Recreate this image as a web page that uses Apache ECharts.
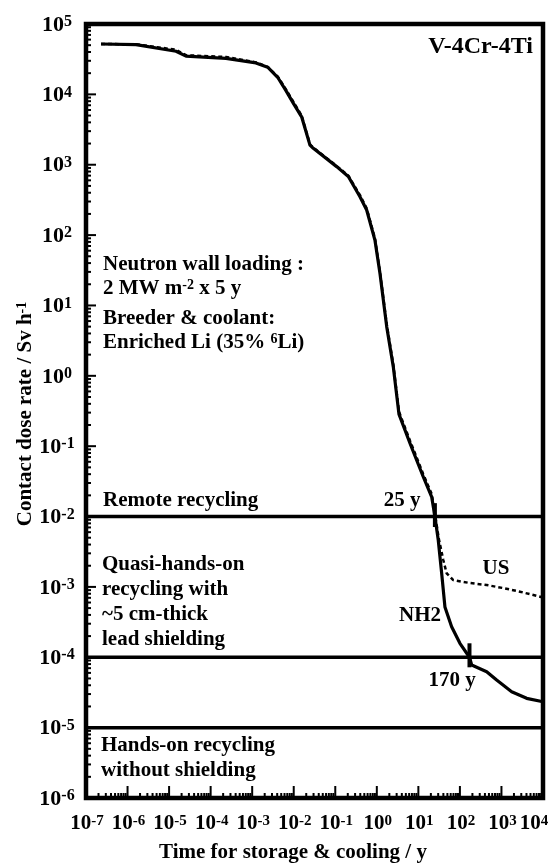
<!DOCTYPE html>
<html>
<head>
<meta charset="utf-8">
<script src="https://cdn.jsdelivr.net/npm/echarts@6/dist/echarts.min.js"></script>
<style>
  html, body { margin: 0; padding: 0; background: #fff; }
  #chart { width: 555px; height: 863px; }
</style>
</head>
<body>
<div id="chart"></div>
<script>
// Contact dose rate of V-4Cr-4Ti after 2 MW/m2 x 5 y, as a function of cooling time.
// NH2 nuclear data library (solid)
const nh2Time = [2.3e-7, 1.6e-6, 1.47e-5, 2.55e-5, 2.34e-4, 1.23e-3, 2.36e-3, 4.1e-3, 6.5e-3, 9.75e-3,
  1.55e-2, 2.46e-2, 2.96e-2, 0.108, 0.206, 0.393, 0.57, 0.90, 1.19, 1.73,
  2.49, 3.41, 6.28, 13.1, 20.9, 25, 30.1, 36.4, 43.6, 63.2,
  100, 170, 192, 441, 766, 1760, 4040, 1e4];
const nh2Dose = [5.2e4, 5.1e4, 4.1e4, 3.5e4, 3.25e4, 2.8e4, 2.43e4, 1.75e4, 1.13e4, 7.5e3,
  4.8e3, 1.9e3, 1.71e3, 940, 680, 350, 227, 85, 28.6, 5.0,
  1.35, 0.286, 0.11, 0.0368, 0.0191, 0.01, 4.63e-3, 1.56e-3, 5.2e-4, 2.72e-4,
  1.58e-4, 1.0e-4, 7.76e-5, 6.24e-5, 4.74e-5, 3.24e-5, 2.61e-5, 2.33e-5];

// US composition (dotted)
const usTime = [2.3e-7, 1.6e-6, 1.47e-5, 2.55e-5, 2.34e-4, 1.23e-3, 2.36e-3, 4.1e-3, 6.5e-3, 9.75e-3,
  1.55e-2, 2.46e-2, 2.96e-2, 0.108, 0.206, 0.393, 0.57, 0.90, 1.19, 1.73,
  2.49, 3.41, 6.28, 13.1, 20.9, 25, 30.9, 39.8, 48.0, 69.2,
  175, 441, 1090, 2790, 1e4];
const usDose = [5.2e4, 5.15e4, 4.3e4, 3.6e4, 3.4e4, 2.85e4, 2.45e4, 1.8e4, 1.18e4, 7.9e3,
  5.0e3, 1.95e3, 1.75e3, 960, 700, 370, 240, 90, 30, 5.4,
  1.45, 0.31, 0.12, 0.040, 0.021, 0.0112, 4.9e-3, 2.41e-3, 1.56e-3, 1.25e-3,
  1.135e-3, 1.064e-3, 9.64e-4, 8.55e-4, 7.08e-4];

// Recycling limits (Sv/h)
const limitDose = [1e-2, 1e-4, 1e-5];
// Times at which NH2 crosses the limits, with the span of the tick drawn there
const markTime = [25, 170];
const markHigh = [1.55e-2, 1.58e-4];
const markLow = [7.1e-3, 7.2e-5];

// Axis decades
const xTickExps = [-7, -6, -5, -4, -3, -2, -1, 0, 1, 2, 3, 4];
const yTickExps = [5, 4, 3, 2, 1, 0, -1, -2, -3, -4, -5, -6];
const minorMult = [2, 3, 4, 5, 6, 7, 8, 9];

const X_MIN = 1e-7, X_MAX = 1e4, Y_MIN = 1e-6, Y_MAX = 1e5;
const FONT = '"Liberation Serif", "Times New Roman", serif';
const CHART_W = 555;

const pairs = (xs, ys) => xs.map((x, i) => [x, ys[i]]);

// "10" with a raised exponent
function powRich(base, sup) {
  return {
    b: { fontSize: base, fontFamily: FONT, fontWeight: 'bold', color: '#000', lineHeight: base, verticalAlign: 'bottom' },
    s: { fontSize: sup, fontFamily: FONT, fontWeight: 'bold', color: '#000', lineHeight: sup,
         verticalAlign: 'top', padding: [0, 0, 12, 0] }
  };
}
const yTickRich = powRich(22, 16);
const xTickRich = powRich(21, 15);
const textRich = {
  n: { fontSize: 21, fontFamily: FONT, fontWeight: 'bold', color: '#000', lineHeight: 21, verticalAlign: 'bottom' },
  s: { fontSize: 14, fontFamily: FONT, fontWeight: 'bold', color: '#000', lineHeight: 14,
       verticalAlign: 'top', padding: [0, 0, 10, 0] }
};

// tick data: [x, y, isMajor]
const yTickData = [];
yTickExps.forEach(e => yTickData.push([X_MIN, Math.pow(10, e), 1]));
for (let e = -6; e < 5; e++) minorMult.forEach(m => yTickData.push([X_MIN, m * Math.pow(10, e), 0]));
const xTickData = [];
xTickExps.forEach(e => xTickData.push([Math.pow(10, e), Y_MIN, 1]));
for (let e = -7; e < 4; e++) minorMult.forEach(m => xTickData.push([m * Math.pow(10, e), Y_MIN, 0]));

function yTick(params, api) {
  const p = api.coord([api.value(0), api.value(1)]);
  const major = api.value(2) === 1;
  const len = major ? 10 : 5;
  return { type: 'line', shape: { x1: p[0], y1: p[1], x2: p[0] + len, y2: p[1] },
    style: { stroke: '#000', lineWidth: 2 } };
}
function xTick(params, api) {
  const p = api.coord([api.value(0), api.value(1)]);
  const major = api.value(2) === 1;
  const len = major ? 12 : 5;
  return { type: 'line', shape: { x1: p[0], y1: p[1], x2: p[0], y2: p[1] - len },
    style: { stroke: '#000', lineWidth: 2 } };
}
function yLabel(params, api) {
  const p = api.coord([api.value(0), api.value(1)]);
  const e = yTickExps[params.dataIndex];
  return { type: 'text', x: p[0] - 29, y: p[1] + 1,
    style: { text: '{b|10}{s|' + e + '}', rich: yTickRich, align: 'center', verticalAlign: 'middle',
      textAlign: 'center', textVerticalAlign: 'middle' } };
}
function xLabel(params, api) {
  const p = api.coord([api.value(0), api.value(1)]);
  const e = xTickExps[params.dataIndex];
  // keep the last label inside the canvas
  const cx = Math.min(p[0] + 1, CHART_W - 21);
  return { type: 'text', x: cx, y: p[1] + 26,
    style: { text: '{b|10}{s|' + e + '}', rich: xTickRich, align: 'center', verticalAlign: 'middle',
      textAlign: 'center', textVerticalAlign: 'middle' } };
}

function txt(text, x, y, align, extra) {
  return Object.assign({
    type: 'text', x: x, y: y,
    style: { text: text, rich: textRich, fill: '#000',
      fontSize: 21, fontFamily: FONT, fontWeight: 'bold',
      align: align || 'left', verticalAlign: 'middle',
      textAlign: align || 'left', textVerticalAlign: 'middle' }
  }, extra || {});
}

const series = [];
limitDose.forEach(d => series.push({
  type: 'line', data: [[X_MIN, d], [X_MAX, d]], showSymbol: false, symbol: 'none',
  lineStyle: { color: '#000', width: 3.5 }, z: 2
}));
series.push({
  name: 'US', type: 'line', data: pairs(usTime, usDose), showSymbol: false, symbol: 'none',
  lineStyle: { color: '#000', width: 2.5, type: [4, 3] }, z: 3
});
series.push({
  name: 'NH2', type: 'line', data: pairs(nh2Time, nh2Dose), showSymbol: false, symbol: 'none',
  lineStyle: { color: '#000', width: 3.2, join: 'round' }, z: 4
});
markTime.forEach((t, i) => series.push({
  type: 'line', data: [[t, markLow[i]], [t, markHigh[i]]], showSymbol: false, symbol: 'none',
  lineStyle: { color: '#000', width: 4 }, z: 5
}));
series.push({ type: 'custom', data: yTickData, renderItem: yTick, clip: false, z: 6 });
series.push({ type: 'custom', data: xTickData, renderItem: xTick, clip: false, z: 6 });
series.push({ type: 'custom', data: yTickData.slice(0, yTickExps.length), renderItem: yLabel, clip: false, z: 6 });
series.push({ type: 'custom', data: xTickData.slice(0, xTickExps.length), renderItem: xLabel, clip: false, z: 6 });

const hiddenAxis = {
  axisLine: { show: false }, axisTick: { show: false }, axisLabel: { show: false },
  splitLine: { show: false }, minorTick: { show: false }
};

const chart = echarts.init(document.getElementById('chart'), null, { renderer: 'canvas' });
chart.setOption({
  animation: false,
  backgroundColor: '#fff',
  grid: { left: 86, right: 12, top: 24, bottom: 65, show: true, borderColor: '#000', borderWidth: 4.5,
    backgroundColor: 'transparent' },
  xAxis: Object.assign({ type: 'log', logBase: 10, min: X_MIN, max: X_MAX }, hiddenAxis),
  yAxis: Object.assign({ type: 'log', logBase: 10, min: Y_MIN, max: Y_MAX }, hiddenAxis),
  series: series,
  graphic: [
    txt('V-4Cr-4Ti', 533, 47, 'right', { style: { text: 'V-4Cr-4Ti', fill: '#000', fontSize: 24,
      fontFamily: FONT, fontWeight: 'bold', align: 'right', verticalAlign: 'middle',
      textAlign: 'right', textVerticalAlign: 'middle' } }),
    txt('{n|Neutron wall loading :}', 103, 265),
    txt('{n|2 MW m}{s|-2}{n| x 5 y}', 103, 289),
    txt('{n|Breeder & coolant:}', 103, 319),
    txt('{n|Enriched Li (35% }{s|6}{n|Li)}', 103, 343),
    txt('{n|Remote recycling}', 103, 501),
    txt('{n|Quasi-hands-on}', 102, 565),
    txt('{n|recycling with}', 102, 590),
    txt('{n|~5 cm-thick}', 102, 615),
    txt('{n|lead shielding}', 102, 640),
    txt('{n|Hands-on recycling}', 101, 746),
    txt('{n|without shielding}', 101, 771),
    txt('{n|25 y}', 402, 501, 'center'),
    txt('{n|NH2}', 420, 616, 'center'),
    txt('{n|US}', 496, 569, 'center'),
    txt('{n|170 y}', 452, 681, 'center'),
    txt('{n|Contact dose rate / Sv h}{s|-1}', 26, 414, 'center', { rotation: Math.PI / 2 }),
    txt('{n|Time for storage & cooling / y}', 293, 853, 'center')
  ]
});
</script>
</body>
</html>
